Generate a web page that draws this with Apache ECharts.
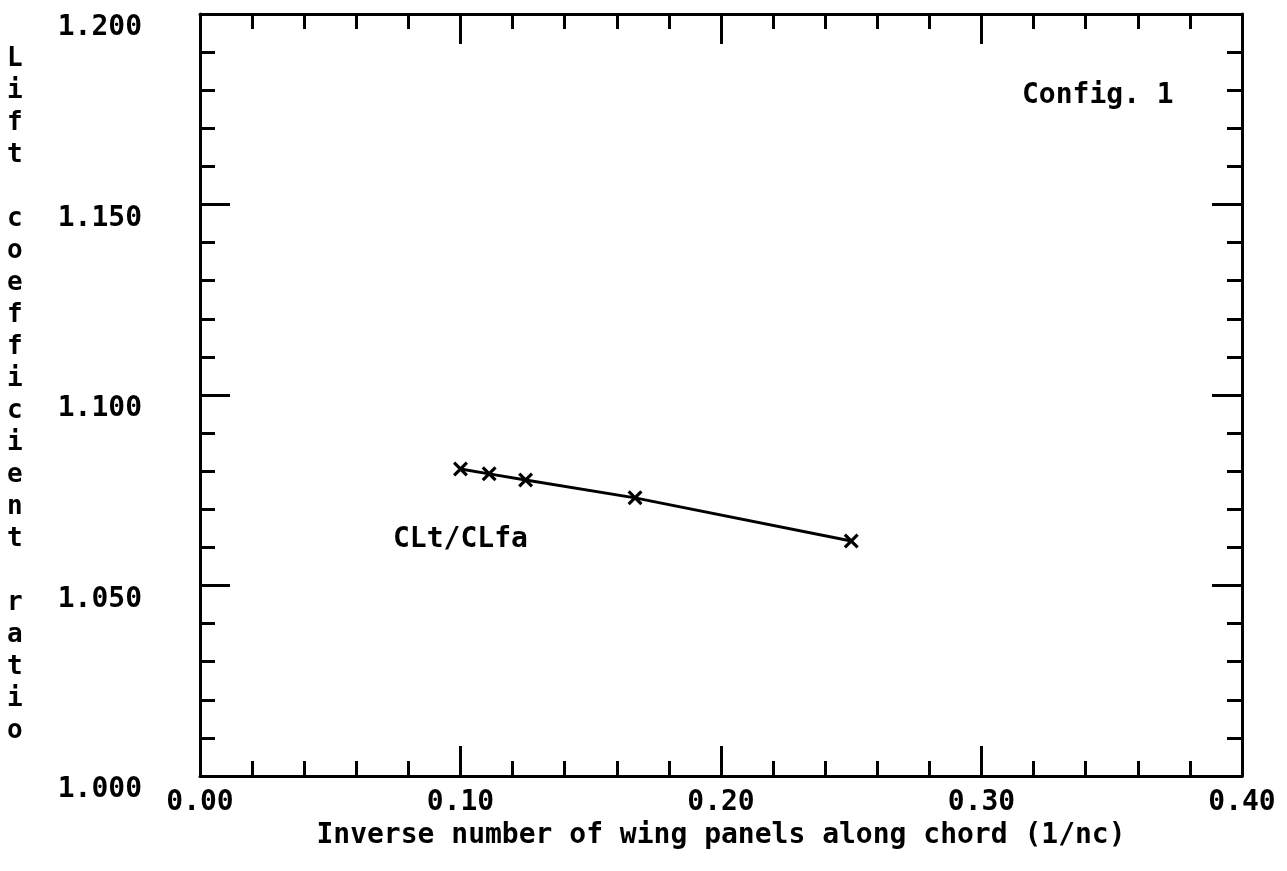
<!DOCTYPE html>
<html>
<head>
<meta charset="utf-8">
<script src="https://cdn.jsdelivr.net/npm/echarts@6/dist/echarts.min.js"></script>
<style>
html,body{margin:0;padding:0;background:#fff;}
#chart{width:1287px;height:871px;}
</style>
</head>
<body>
<div id="chart"></div>
<script>
// Data
const xValues = [0.1, 0.111, 0.125, 0.167, 0.25];     // 1/nc
const yValues = [1.0806, 1.0793, 1.0777, 1.0730, 1.0617]; // CLt/CLfa
const seriesName = 'CLt/CLfa';
const xTitle = 'Inverse number of wing panels along chord (1/nc)';
const yTitle = 'Lift coefficient ratio';
const configLabel = 'Config. 1';

const FONT = 'DejaVu Sans Mono';
const chart = echarts.init(document.getElementById('chart'));

const yTitleVertical = yTitle.split('').map(c => c === ' ' ? '' : c).join('\n');

const xMarker = 'path://M0,1.5 L1.5,0 L5,3.5 L8.5,0 L10,1.5 L6.5,5 L10,8.5 L8.5,10 L5,6.5 L1.5,10 L0,8.5 L3.5,5 Z';

function tickCommon() {
  return {
    axisLine: {show: true, onZero: false, lineStyle: {color: '#000', width: 3}},
    axisTick: {show: true, inside: true, length: 30, lineStyle: {color: '#000', width: 3}},
    minorTick: {show: true, splitNumber: 5, length: 15, lineStyle: {color: '#000', width: 3}},
    splitLine: {show: false}
  };
}

chart.setOption({
  backgroundColor: '#fff',
  animation: false,
  grid: {left: 200, right: 45, top: 14, bottom: 95},
  xAxis: [
    Object.assign({
      type: 'value', min: 0, max: 0.4, interval: 0.1, position: 'bottom',
      axisLabel: {
        show: true, margin: 13, color: '#000', fontFamily: FONT, fontWeight: 'bold', fontSize: 28,
        formatter: v => v.toFixed(2)
      },
      name: xTitle, nameLocation: 'middle', nameGap: 37,
      nameTextStyle: {color: '#000', fontFamily: FONT, fontWeight: 'bold', fontSize: 28}
    }, tickCommon()),
    Object.assign({
      type: 'value', min: 0, max: 0.4, interval: 0.1, position: 'top',
      axisLabel: {show: false}
    }, tickCommon())
  ],
  yAxis: [
    Object.assign({
      type: 'value', min: 1.0, max: 1.2, interval: 0.05, position: 'left',
      axisLabel: {
        show: true, margin: 58, color: '#000', fontFamily: FONT, fontWeight: 'bold', fontSize: 28,
        verticalAlign: 'top', formatter: v => v.toFixed(3)
      }
    }, tickCommon()),
    Object.assign({
      type: 'value', min: 1.0, max: 1.2, interval: 0.05, position: 'right',
      axisLabel: {show: false}
    }, tickCommon())
  ],
  series: [{
    name: seriesName,
    type: 'line',
    data: xValues.map((x, i) => [x, yValues[i]]),
    symbol: xMarker,
    symbolSize: 15,
    showAllSymbol: true,
    lineStyle: {color: '#000', width: 3},
    itemStyle: {color: '#000'}
  }],
  graphic: [
    {
      type: 'text', left: 7, top: 43,
      style: {
        text: yTitleVertical, fill: '#000', font: 'bold 26px "' + FONT + '"',
        lineHeight: 32, align: 'center', width: 16
      }
    },
    {
      type: 'text', left: 1022, top: 82,
      style: {text: configLabel, fill: '#000', font: 'bold 28px "' + FONT + '"'}
    },
    {
      type: 'text', left: 393, top: 526,
      style: {text: seriesName, fill: '#000', font: 'bold 28px "' + FONT + '"'}
    }
  ]
});
</script>
</body>
</html>
